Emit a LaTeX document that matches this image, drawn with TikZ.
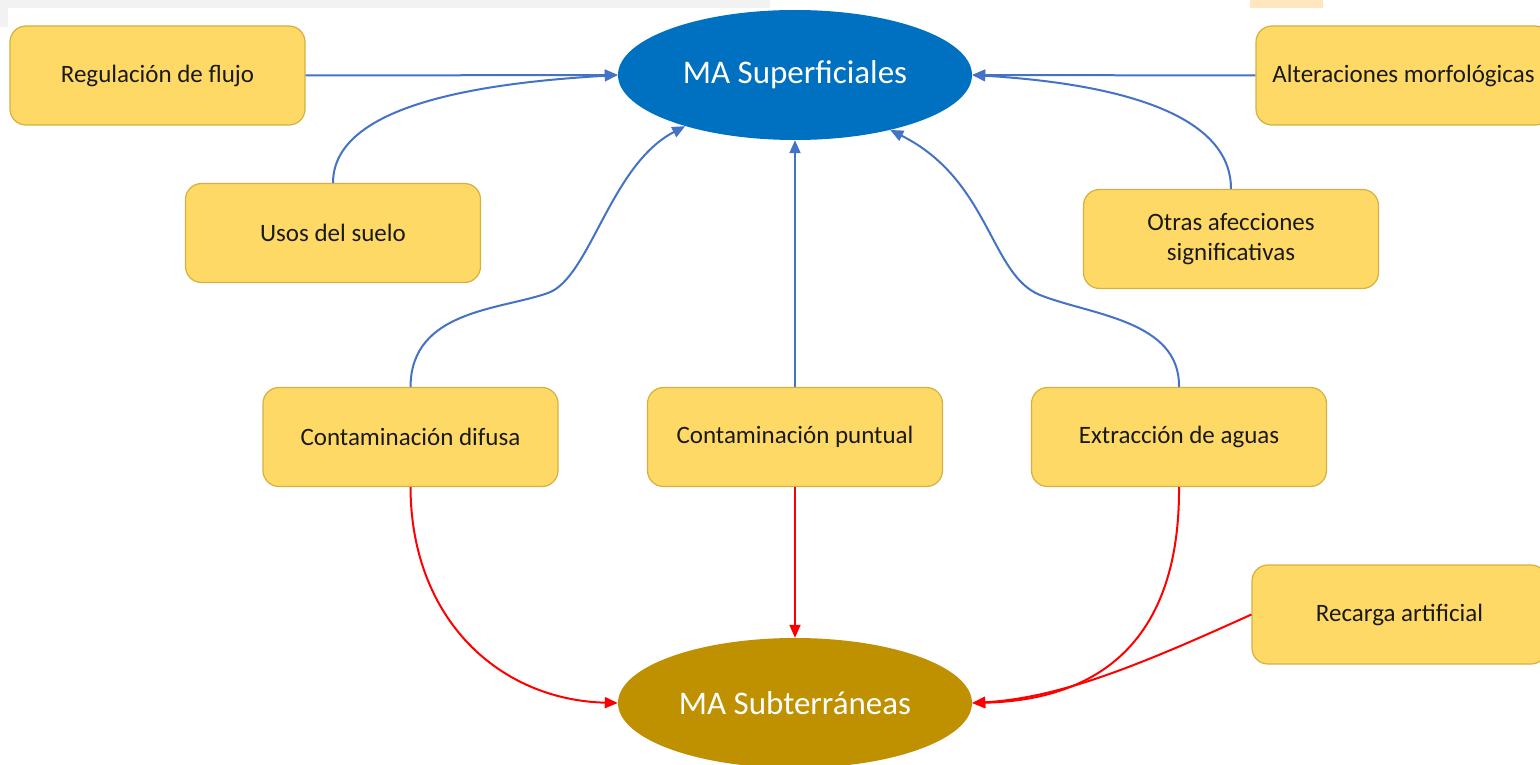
\documentclass[tikz,border=0pt]{standalone}
\usepackage{fontspec}
\setmainfont{Carlito}
\usetikzlibrary{shapes.geometric,arrows.meta}
\definecolor{boxfill}{HTML}{FFD966}
\definecolor{boxline}{HTML}{D6B13F}
\definecolor{supblue}{HTML}{0070C0}
\definecolor{subgold}{HTML}{BF9000}
\definecolor{arrblue}{HTML}{4472C4}
\definecolor{arrred}{HTML}{FF0000}
\definecolor{txt}{HTML}{1A1A1A}
\definecolor{band}{HTML}{F2F2F2}
\definecolor{blob}{HTML}{FFE6BF}
\begin{document}
\begin{tikzpicture}[x=1pt,y=-1pt,
 box/.style={draw=boxline, line width=1.2pt, fill=boxfill, rounded corners=16pt,
   minimum width=295pt, minimum height=99pt, inner sep=0pt, align=center,
   font=\fontsize{25}{30}\selectfont, text=txt},
 oval/.style={ellipse, minimum width=354pt, minimum height=130pt, inner sep=0pt,
   text=white, font=\fontsize{33}{40}\selectfont},
 barrow/.style={draw=arrblue, line width=2pt, -{Triangle[length=13pt,width=11pt]}},
 rarrow/.style={draw=arrred, line width=2pt, -{Triangle[length=13pt,width=11pt]}},
]
\useasboundingbox (0,0) rectangle (1540,765);
\clip (0,0) rectangle (1540,765);
\fill[white] (0,0) rectangle (1540,765);
\fill[band] (0,0) rectangle (770,8);
\fill[band] (0,0) rectangle (8,27);
\fill[blob] (1250,0) rectangle (1323,8);

\node[oval, fill=supblue] (sup) at (795,75) {MA Superficiales};
\node[oval, fill=subgold] (sub) at (795,703) {MA Subterráneas};

\node[box] (reg) at (157.5,75.5) {Regulación de flujo};
\node[box] (usos) at (333,233) {Usos del suelo};
\node[box] (alt) at (1403.5,75.5) {Alteraciones morfológicas};
\node[box] (otras) at (1231,239) {Otras afecciones\\significativas};
\node[box] (difusa) at (410.5,437) {Contaminación difusa};
\node[box] (puntual) at (795,437) {Contaminación puntual};
\node[box] (extr) at (1179,437) {Extracción de aguas};
\node[box] (rec) at (1399.5,614.5) {Recarga artificial};

\draw[barrow] (reg.east) -- (sup.west);
\draw[barrow] (usos.north) .. controls (333,100) and (500,82) .. (sup.west);
\draw[barrow] (alt.west) -- (sup.east);
\draw[barrow] (otras.north) .. controls (1231,105) and (1090,82) .. (sup.east);
\draw[barrow] (difusa.north) .. controls (411,310) and (500,310) .. (548,293)
   .. controls (590,278) and (610,165) .. (sup.205);
\draw[barrow] (puntual.north) -- (sup.south);
\draw[barrow] (extr.north) .. controls (1180,320) and (1090,315) .. (1040,295)
   .. controls (990,275) and (990,180) .. (sup.330);

\draw[rarrow] (difusa.south) .. controls (411,620) and (500,700) .. (sub.west);
\draw[rarrow] (puntual.south) -- (sub.north);
\draw[rarrow] (extr.south) .. controls (1180,640) and (1100,700) .. (sub.east);
\draw[rarrow] (rec.west) .. controls (1140,665) and (1060,698) .. (sub.east);
\end{tikzpicture}
\end{document}
